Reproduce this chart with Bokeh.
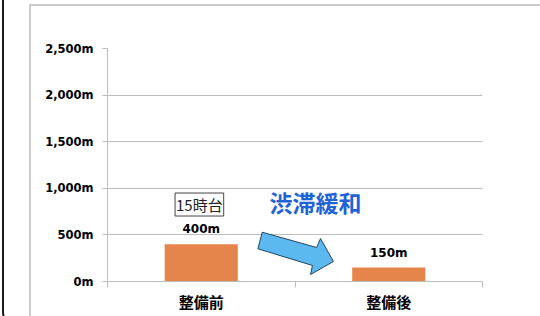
from bokeh.plotting import figure
from bokeh.models import Range1d, FixedTicker, ColumnDataSource, LabelSet, Label, InlineStyleSheet
from bokeh.embed import file_html
from bokeh.resources import INLINE
from bokeh.core.properties import value

# ---- data ----
categories = ["整備前", "整備後"]
lengths = [400, 150]
value_labels = ["400m", "150m"]
y_ticks = [0, 500, 1000, 1500, 2000, 2500]
y_tick_labels = ["0m", "500m", "1,000m", "1,500m", "2,000m", "2,500m"]
time_note = "15時台"
headline = "渋滞緩和"

# decorative arrow outline (data coordinates)
arrow_x = [0.825, 1.115, 1.136, 1.205, 1.083, 1.093, 0.802]
arrow_y = [529, 365, 461, 215, 75, 172, 351]

xs = [i + 0.5 for i in range(len(categories))]
src = ColumnDataSource(dict(x=xs, top=lengths, lab=value_labels))

p = figure(width=540, height=316, output_backend="svg", toolbar_location=None,
           x_range=Range1d(0, len(categories)), y_range=Range1d(0, 2500),
           min_border_left=107, min_border_right=58, min_border_top=48, min_border_bottom=35)
p.outline_line_color = None
p.background_fill_color = "white"
p.border_fill_color = "white"

# decorative page frame (gray chart-area border and dark rounded outer border)
p.stylesheets = [InlineStyleSheet(css="""
:host::before { content: ''; position: absolute; left: 2px; top: -30px; width: 800px; height: 352px;
  border: 2px solid #1a1a1a; border-radius: 14px; pointer-events: none; z-index: 5; }
:host::after { content: ''; position: absolute; left: 29px; top: 4px; width: 800px; height: 400px;
  border-left: 2px solid #cccccc; border-top: 2px solid #cccccc; pointer-events: none; z-index: 5; }
:host { overflow: hidden; }
""")]

GRAY = "#BDBDBD"
p.xgrid.visible = False
p.ygrid.ticker = FixedTicker(ticks=y_ticks)
p.ygrid.grid_line_color = GRAY

# y axis
ya = p.yaxis[0]
ya.ticker = FixedTicker(ticks=y_ticks)
ya.major_label_overrides = {t: l for t, l in zip(y_ticks, y_tick_labels)}
ya.axis_line_color = GRAY
ya.major_tick_line_color = GRAY
ya.major_tick_in = 0
ya.major_tick_out = 5
ya.minor_tick_line_color = None
ya.major_label_standoff = 9
ya.major_label_text_font = "DejaVu Sans"
ya.major_label_text_font_style = "bold"
ya.major_label_text_font_size = "11.5px"
ya.major_label_text_color = "black"

# x axis
xa = p.xaxis[0]
xa.ticker = FixedTicker(ticks=xs, minor_ticks=list(range(len(categories) + 1)))
xa.major_label_overrides = {x: c for x, c in zip(xs, categories)}
xa.axis_line_color = GRAY
xa.major_tick_line_color = None
xa.minor_tick_line_color = GRAY
xa.minor_tick_in = 0
xa.minor_tick_out = 6
xa.major_label_standoff = 3
xa.major_label_text_font = "Noto Sans CJK JP"
xa.major_label_text_font_style = "bold"
xa.major_label_text_font_size = "15px"
xa.major_label_text_color = "black"

# bars
p.vbar(x="x", top="top", width=0.39, bottom=0, source=src,
       fill_color="#E6854B", line_color=None)

p.add_layout(LabelSet(x="x", y="top", text="lab", source=src, y_offset=15,
                      text_align="center", text_baseline="middle",
                      text_font=value("DejaVu Sans"), text_font_style="bold",
                      text_font_size="12px", text_color="black"))

# note box
p.add_layout(Label(x=0.49, y=826, text=time_note, text_align="center", text_baseline="middle",
                   text_font="Noto Sans CJK JP", text_font_size="15px", text_color="#222222",
                   border_line_color="#444444", border_line_width=1,
                   background_fill_color="white", padding=1))

# headline
p.add_layout(Label(x=1.109, y=850, text=headline, text_align="center", text_baseline="middle",
                   text_font="Noto Sans CJK JP", text_font_style="bold",
                   text_font_size="23px", text_color="#1F63D6"))

# arrow
p.patch(arrow_x, arrow_y, fill_color="#5BB9F0", line_color="#24445E", line_width=1)

open("out.html", "w").write(file_html(p, INLINE))
